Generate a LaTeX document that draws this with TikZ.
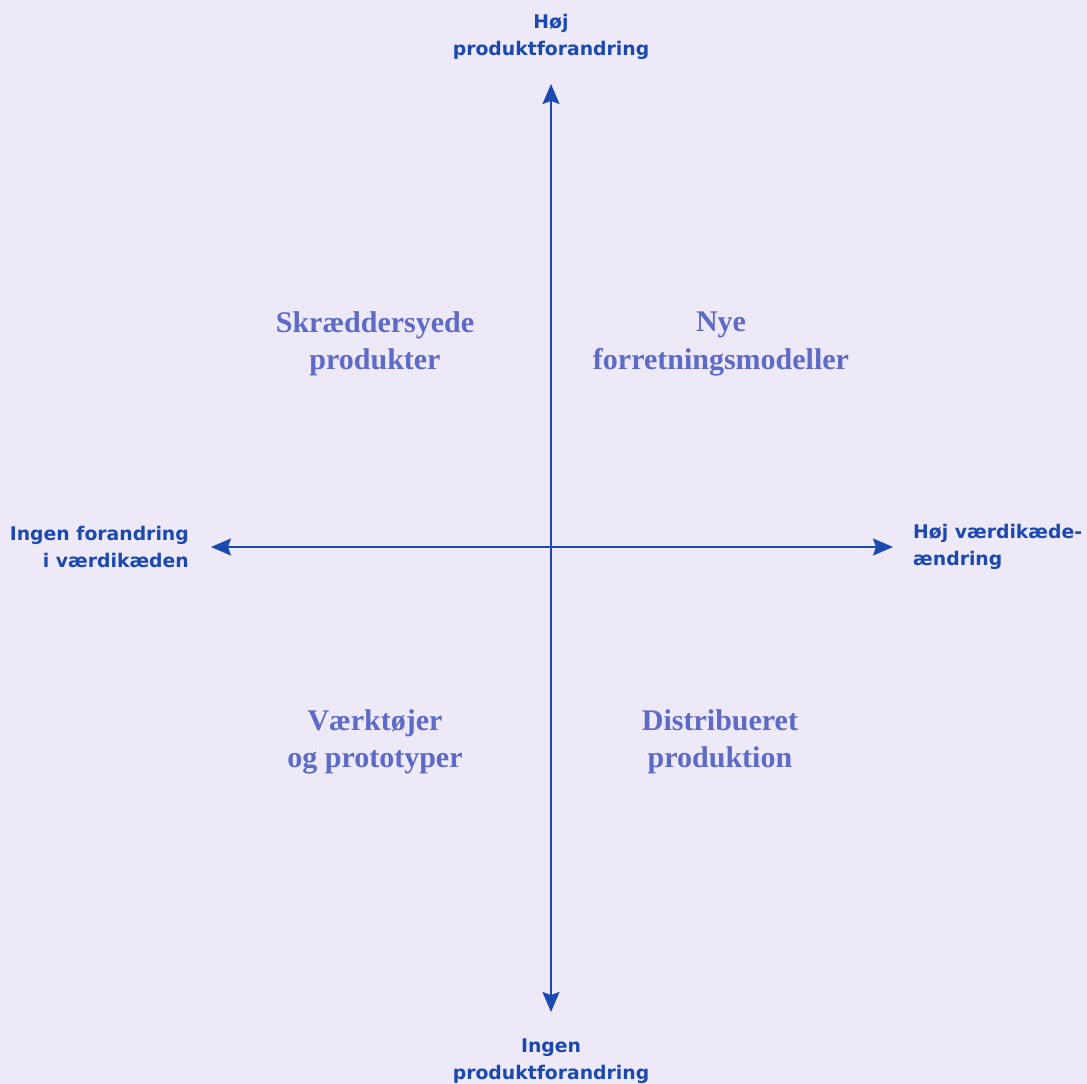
\documentclass[tikz,border=0pt]{standalone}
\usepackage{fontspec}
\setmainfont{Liberation Serif}
\setsansfont{DejaVu Sans}
\usetikzlibrary{arrows.meta}
\definecolor{bgc}{HTML}{EDE9F6}
\definecolor{axisc}{HTML}{1A4AAF}
\definecolor{quadc}{HTML}{5B6BC6}
\tikzset{
  axisline/.style={draw=axisc, line width=1.8pt, -{Stealth[length=20pt,width=17pt,inset=3pt]}},
  axlabel/.style={text=axisc, font=\sffamily\bfseries\fontsize{18.8}{27}\selectfont, inner sep=0pt},
  quad/.style={text=quadc, font=\rmfamily\bfseries\fontsize{30}{37.5}\selectfont, align=center, inner sep=0pt}
}
\begin{document}
\begin{tikzpicture}[x=1pt,y=-1pt]
\fill[bgc] (0,0) rectangle (1087,1084);
\useasboundingbox (0,0) rectangle (1087,1084);
\coordinate (O) at (551,547);
\coordinate (T) at (551,84);
\coordinate (B) at (551,1012);
\coordinate (L) at (211,547);
\coordinate (R) at (893,547);
\draw[axisline] (O) -- (T);
\draw[axisline] (O) -- (B);
\draw[axisline] (O) -- (L);
\draw[axisline] (O) -- (R);
\node[axlabel, align=center] (tl) at (551,37) {Høj\\produktforandring};
\node[axlabel, align=center] (bl) at (551,1061) {Ingen\\produktforandring};
\node[axlabel, align=right, anchor=east] (ll) at (189,547) {Ingen forandring\\i værdikæden};
\node[axlabel, align=left, anchor=west] (rl) at (913,547) {Høj værdikæde-\\ændring};
\node[quad] (q1) at (375,344) {Skræddersyede\\produkter};
\node[quad] (q2) at (721,344) {Nye\\forretningsmodeller};
\node[quad] (q3) at (375,742) {Værktøjer\\og prototyper};
\node[quad] (q4) at (720,742) {Distribueret\\produktion};
\end{tikzpicture}
\end{document}
